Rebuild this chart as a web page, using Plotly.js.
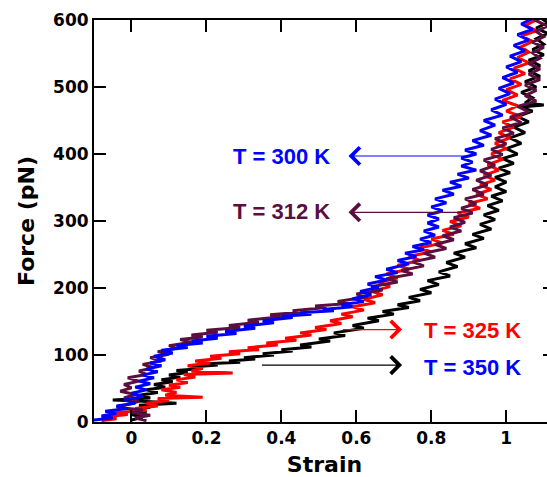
<!DOCTYPE html>
<html>
<head>
<meta charset="utf-8">
<script src="https://cdn.plot.ly/plotly-3.0.1.min.js"></script>
<style>
html,body{margin:0;padding:0;overflow:hidden;background:#fff;}
#chart{width:560px;height:477px;}
</style>
</head>
<body>
<div id="chart"></div>
<script>
// ---- data (strain vs force, pN) ----
const blueStrain = [-0.10,-0.05,-0.08,-0.04,-0.07,-0.01,-0.04,0.01,-0.02,0.03,0.00,0.04,0.01,0.05,0.02,0.06,0.03,0.07,0.04,0.08,0.05,0.09,0.06,0.11,0.08,0.15,0.12,0.19,0.16,0.23,0.20,0.28,0.25,0.33,0.30,0.38,0.35,0.43,0.40,0.48,0.45,0.54,0.51,0.59,0.56,0.62,0.59,0.64,0.61,0.66,0.63,0.68,0.65,0.71,0.68,0.74,0.71,0.76,0.73,0.78,0.75,0.80,0.77,0.81,0.78,0.82,0.79,0.82,0.79,0.83,0.80,0.84,0.81,0.86,0.83,0.88,0.85,0.90,0.87,0.92,0.88,0.91,0.88,0.92,0.89,0.94,0.91,0.96,0.93,0.97,0.94,0.99,0.96,1.00,0.97,1.01,0.98,1.02,0.99,1.03,1.00,1.04,1.01,1.05,1.02,1.06,1.03,1.07,1.04,1.07,1.05];
const blueForce  = [3,6,9,13,16,20,24,28,33,38,43,48,52,57,61,66,70,75,79,84,88,93,98,103,107,111,114,118,121,125,128,132,135,140,143,148,151,156,158,161,163,166,168,172,175,180,184,190,195,201,206,212,217,223,228,236,241,247,252,257,262,268,273,279,285,291,297,303,309,315,321,327,333,340,346,352,358,364,370,376,382,388,394,400,406,413,420,428,435,443,450,458,466,474,482,490,498,506,514,522,530,538,546,554,562,570,578,586,594,602,610];

const maroonStrain = [0.04,0.01,0.05,0.00,0.03,-0.04,-0.01,0.02,-0.02,0.01,-0.03,0.00,-0.02,0.02,-0.01,0.04,0.02,0.06,0.03,0.08,0.05,0.10,0.07,0.12,0.10,0.16,0.13,0.19,0.16,0.23,0.20,0.29,0.26,0.34,0.31,0.40,0.37,0.46,0.43,0.52,0.49,0.58,0.55,0.63,0.60,0.67,0.64,0.71,0.68,0.75,0.72,0.78,0.75,0.81,0.78,0.84,0.81,0.86,0.83,0.88,0.85,0.89,0.86,0.91,0.88,0.92,0.89,0.94,0.91,0.95,0.92,0.96,0.93,0.97,0.94,0.99,0.96,1.00,0.97,1.02,0.99,1.04,1.01,1.06,1.03,1.08,1.05,1.08,1.05,1.09,1.06,1.09,1.06,1.09,1.07,1.10,1.07,1.10,1.08,1.11,1.08,1.10];
const maroonForce  = [2,6,10,14,18,22,26,31,36,41,46,51,56,61,66,71,76,81,86,91,96,101,105,110,114,119,123,127,130,134,137,141,144,149,152,157,160,164,166,171,173,177,180,187,191,197,202,209,214,221,226,233,239,246,252,259,265,272,278,285,291,298,305,312,319,326,333,340,347,354,361,368,375,383,391,399,407,415,423,431,439,447,455,463,471,479,487,495,503,511,519,527,535,543,551,559,567,575,583,591,599,607];

const redStrain = [-0.08,-0.04,-0.07,-0.01,-0.04,0.04,0.01,0.07,0.04,0.10,0.07,0.19,0.09,0.12,0.08,0.13,0.10,0.15,0.12,0.17,0.14,0.27,0.16,0.19,0.15,0.21,0.17,0.24,0.21,0.29,0.26,0.34,0.31,0.39,0.36,0.44,0.41,0.48,0.45,0.52,0.49,0.56,0.53,0.59,0.56,0.62,0.59,0.65,0.62,0.67,0.64,0.69,0.66,0.71,0.68,0.74,0.71,0.77,0.74,0.80,0.77,0.83,0.80,0.86,0.83,0.88,0.85,0.90,0.87,0.93,0.90,0.95,0.92,0.96,0.93,0.97,0.94,0.98,0.95,0.99,0.96,1.00,0.97,1.01,0.98,1.02,0.99,1.04,1.00,1.03,0.99,1.03,1.00,1.04,1.01,1.05,1.02,1.06,1.03,1.06,1.04,1.07,1.04,1.08,1.05,1.08,1.06];
const redForce  = [2,5,8,11,14,17,20,24,28,32,35,37,40,44,48,52,55,59,63,67,71,73,76,80,84,88,91,95,98,102,105,108,111,115,118,122,125,130,133,138,141,147,151,157,161,167,172,178,183,190,195,202,208,215,221,228,234,241,247,254,260,267,273,280,286,293,299,306,312,319,326,333,340,347,354,361,368,376,384,392,400,408,416,424,432,440,448,456,464,472,480,488,496,504,512,520,528,536,544,552,560,568,576,584,592,600,608];

const blackStrain = [0.00,0.03,0.00,0.04,0.01,0.05,0.02,0.12,0.03,-0.05,0.05,0.02,0.07,0.04,0.09,0.06,0.11,0.08,0.13,0.10,0.15,0.12,0.19,0.16,0.23,0.20,0.29,0.26,0.33,0.30,0.38,0.35,0.43,0.40,0.48,0.45,0.53,0.50,0.57,0.54,0.62,0.59,0.66,0.63,0.70,0.67,0.74,0.71,0.77,0.74,0.80,0.77,0.82,0.79,0.85,0.82,0.87,0.84,0.89,0.86,0.92,0.89,0.94,0.91,0.96,0.93,0.97,0.94,0.98,0.95,0.99,0.96,1.00,0.97,1.00,0.97,1.01,0.98,1.02,0.99,1.03,1.00,1.04,1.01,1.05,1.02,1.06,1.03,1.07,1.04,1.10,1.05,1.07,1.04,1.08,1.05,1.09,1.06,1.09,1.06,1.10,1.07,1.10,1.08,1.11,1.08,1.11,1.09];
const blackForce  = [3,7,11,15,19,22,25,28,31,33,36,40,44,48,52,56,60,63,67,70,74,77,80,82,85,87,89,91,94,96,100,102,106,108,112,115,121,124,129,133,140,144,151,155,161,165,171,175,181,186,193,198,205,211,218,224,232,238,246,252,260,266,274,280,288,295,302,309,316,323,330,337,344,351,358,365,372,379,386,393,400,408,416,424,432,440,448,456,464,470,473,476,484,492,500,508,516,524,532,540,548,556,564,572,580,588,596,604];

const xTickVals = [0, 0.2, 0.4, 0.6, 0.8, 1];
const xTickText = ['0', '0.2', '0.4', '0.6', '0.8', '1'];
const yTickVals = [0, 100, 200, 300, 400, 500, 600];

const labels = ['T = 300 K', 'T = 312 K', 'T = 325 K', 'T = 350 K'];
const labelColors = ['#0000ff', '#5a0f3e', '#ff0000', '#0000ff'];
const arrowColors = ['#0000ff', '#5a0f3e', '#ff0000', '#000000'];
const labelX = [0.40, 0.40, 0.91, 0.91];
const labelY = [396, 314, 136, 82];
const arrowHeadX = [0.579, 0.579, 0.722, 0.722];
const arrowTailX = [0.896, 0.885, 0.56, 0.344];
const arrowY = [397, 313, 138, 85];

const MAROON = '#5a0f3e';
const lineW = 3;
const traces = [
  {x: blackStrain, y: blackForce, mode: 'lines', line: {color: '#000000', width: lineW}, name: '350 K'},
  {x: redStrain, y: redForce, mode: 'lines', line: {color: '#ff0000', width: lineW}, name: '325 K'},
  {x: maroonStrain, y: maroonForce, mode: 'lines', line: {color: MAROON, width: lineW}, name: '312 K'},
  {x: blueStrain, y: blueForce, mode: 'lines', line: {color: '#0000ff', width: lineW}, name: '300 K'}
];

const annotations = [];
for (let i = 0; i < labels.length; i++) {
  annotations.push({
    x: labelX[i], y: labelY[i], xref: 'x', yref: 'y', text: labels[i], showarrow: false,
    font: {family: 'Liberation Sans, Arial, sans-serif', size: 22, weight: 'bold', color: labelColors[i]},
    xanchor: 'center', yanchor: 'middle'
  });
  annotations.push({
    x: arrowHeadX[i], y: arrowY[i], ax: arrowTailX[i], ay: arrowY[i], axref: 'x', ayref: 'y',
    xref: 'x', yref: 'y', text: '', showarrow: true, arrowhead: 4, arrowsize: 2.8, arrowwidth: 1.2,
    arrowcolor: arrowColors[i], standoff: 0, startstandoff: 0
  });
}

const tickFont = {family: 'DejaVu Sans, sans-serif', size: 17, weight: 'bold', color: '#000'};
const titleFont = {family: 'DejaVu Sans, sans-serif', size: 22, weight: 'bold', color: '#000'};

const layout = {
  width: 560, height: 477,
  margin: {l: 94, r: 5, t: 20, b: 55},
  paper_bgcolor: '#ffffff', plot_bgcolor: '#ffffff',
  showlegend: false,
  xaxis: {
    range: [-0.1, 1.13], tickmode: 'array', tickvals: xTickVals, ticktext: xTickText,
    ticks: 'inside', ticklen: 12, tickwidth: 2, tickcolor: '#000',
    showline: true, linewidth: 2, linecolor: '#000', mirror: 'ticks',
    showgrid: false, zeroline: false, tickfont: tickFont,
    title: {text: 'Strain', font: titleFont, standoff: 10}
  },
  yaxis: {
    range: [0, 600], tickmode: 'array', tickvals: yTickVals,
    ticks: 'inside', ticklen: 12, tickwidth: 2, tickcolor: '#000',
    showline: true, linewidth: 2, linecolor: '#000', mirror: 'ticks',
    showgrid: false, zeroline: false, tickfont: tickFont,
    title: {text: 'Force (pN)', font: titleFont, standoff: 12}
  },
  annotations: annotations
};

Plotly.newPlot('chart', traces, layout, {staticPlot: true, displayModeBar: false});
</script>
</body>
</html>
